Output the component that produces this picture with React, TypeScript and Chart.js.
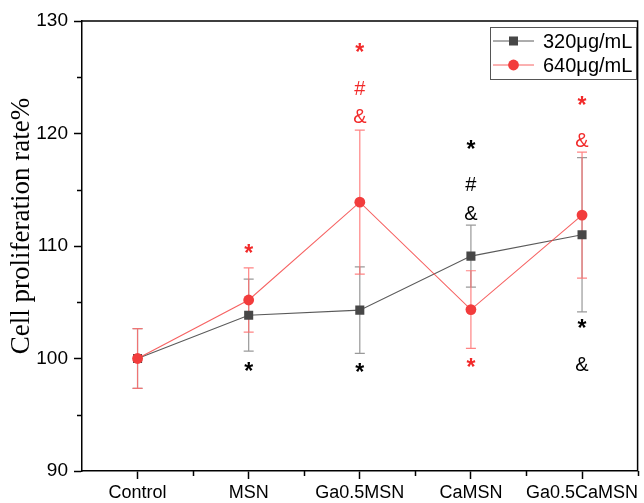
import { useEffect, useRef } from "react";
import { Chart, registerables } from "chart.js";

Chart.register(...registerables);

// Treatment groups on the x axis
const categories = ["Control", "MSN", "Ga0.5MSN", "CaMSN", "Ga0.5CaMSN"];

// 320 µg/mL: mean and error
const dose320 = [100, 103.85, 104.3, 109.1, 111.0];
const dose320Err = [2.65, 3.2, 3.85, 2.75, 6.85];

// 640 µg/mL: mean and error
const dose640 = [100, 105.2, 113.9, 104.35, 112.75];
const dose640Err = [2.65, 2.85, 6.4, 3.45, 5.6];

const seriesNames = ["320μg/mL", "640μg/mL"];

// y-axis range and tick steps
const yMin = 90;
const yMax = 130;
const yMajorStep = 10;
const yMinorTicks = [95, 105, 115, 125];

// Significance marks: category index, y value, symbol, group (0 = 320, 1 = 640)
const markCats = [1, 1, 2, 2, 2, 2, 3, 3, 3, 3, 4, 4, 4, 4];
const markValues = [109.7, 99.2, 127.5, 123.9, 121.4, 99.1, 118.9, 115.4, 112.8, 99.5, 122.8, 119.3, 103.0, 99.4];
const markSymbols = ["*", "*", "*", "#", "&", "*", "*", "#", "&", "*", "*", "&", "*", "&"];
const markGroups = [1, 0, 1, 1, 1, 0, 0, 0, 0, 1, 1, 1, 0, 0];

const GRAY_LINE = "#5a5a5a";
const GRAY_MARK = "#474747";
const GRAY_ERR = "rgba(110,110,110,0.7)";
const RED_LINE = "rgba(245,70,70,0.85)";
const RED_MARK = "#f23c3c";
const RED_ERR = "rgba(255,110,110,0.85)";
const SANS = "'Liberation Sans', Arial, sans-serif";
const SERIF = "'Liberation Serif', 'Times New Roman', serif";

const decorPlugin = {
  id: "decor",
  beforeDatasetsDraw(chart: any) {
    const { ctx } = chart;
    const xs = chart.scales.x;
    const ys = chart.scales.y;
    const groups = [
      { vals: dose320, errs: dose320Err, color: GRAY_ERR },
      { vals: dose640, errs: dose640Err, color: RED_ERR },
    ];
    ctx.save();
    ctx.lineWidth = 1.2;
    groups.forEach((g) => {
      ctx.strokeStyle = g.color;
      g.vals.forEach((v, i) => {
        const x = xs.getPixelForValue(i);
        const yHi = ys.getPixelForValue(v + g.errs[i]);
        const yLo = ys.getPixelForValue(v - g.errs[i]);
        ctx.beginPath();
        ctx.moveTo(x, yHi);
        ctx.lineTo(x, yLo);
        ctx.moveTo(x - 5, yHi);
        ctx.lineTo(x + 5, yHi);
        ctx.moveTo(x - 5, yLo);
        ctx.lineTo(x + 5, yLo);
        ctx.stroke();
      });
    });
    ctx.restore();
  },
  afterDraw(chart: any) {
    const { ctx, chartArea } = chart;
    const xs = chart.scales.x;
    const ys = chart.scales.y;
    const { left, right, top, bottom } = chartArea;
    ctx.save();

    // frame on top and right
    ctx.strokeStyle = "#000";
    ctx.lineWidth = 1.5;
    ctx.beginPath();
    ctx.moveTo(left, top);
    ctx.lineTo(right, top);
    ctx.lineTo(right, bottom);
    ctx.stroke();

    // minor ticks
    ctx.lineWidth = 1.5;
    ctx.beginPath();
    yMinorTicks.forEach((v) => {
      const y = Math.round(ys.getPixelForValue(v)) + 0.5;
      ctx.moveTo(left, y);
      ctx.lineTo(left - 5, y);
    });
    for (let i = 0; i < categories.length; i++) {
      const x = Math.round(xs.getPixelForValue(i + 0.5)) + 0.5;
      ctx.moveTo(x, bottom);
      ctx.lineTo(x, bottom + 5);
    }
    ctx.stroke();

    // y-axis title
    ctx.save();
    ctx.translate(22, 226);
    ctx.rotate(-Math.PI / 2);
    ctx.fillStyle = "#000";
    ctx.font = `27px ${SERIF}`;
    ctx.textAlign = "center";
    ctx.textBaseline = "middle";
    ctx.fillText("Cell proliferation rate%", 0, 0);
    ctx.restore();

    // significance marks
    ctx.textAlign = "center";
    ctx.textBaseline = "middle";
    markSymbols.forEach((s, i) => {
      ctx.fillStyle = markGroups[i] === 1 ? "#f22a2a" : "#000";
      const x = xs.getPixelForValue(markCats[i]);
      const y = ys.getPixelForValue(markValues[i]);
      if (s === "*") {
        ctx.font = `bold 23px ${SANS}`;
        ctx.fillText(s, x, y + 5);
      } else {
        ctx.font = `20px ${SANS}`;
        ctx.fillText(s, x, y);
      }
    });

    // legend
    const bx = 490.5, by = 27.5, bw = 146, bh = 52;
    ctx.strokeStyle = "#555";
    ctx.lineWidth = 1;
    ctx.strokeRect(bx, by, bw, bh);
    const rows = [
      { y: 41, line: GRAY_LINE, mark: GRAY_MARK, square: true },
      { y: 65, line: RED_LINE, mark: RED_MARK, square: false },
    ];
    rows.forEach((r, i) => {
      ctx.strokeStyle = r.line;
      ctx.lineWidth = 1;
      ctx.beginPath();
      ctx.moveTo(493, r.y);
      ctx.lineTo(534, r.y);
      ctx.stroke();
      ctx.fillStyle = r.mark;
      if (r.square) {
        ctx.fillRect(513.5 - 4.5, r.y - 4.5, 9, 9);
      } else {
        ctx.beginPath();
        ctx.arc(513.5, r.y, 5.4, 0, Math.PI * 2);
        ctx.fill();
      }
      ctx.fillStyle = "#000";
      ctx.font = `20px ${SANS}`;
      ctx.textAlign = "left";
      ctx.textBaseline = "middle";
      ctx.fillText(seriesNames[i], 543, r.y + 1);
    });

    ctx.restore();
  },
};

export default function App() {
  const canvasRef = useRef<HTMLCanvasElement | null>(null);

  useEffect(() => {
    document.body.style.margin = "0";
    const canvas = canvasRef.current;
    if (!canvas) return;
    const chart = new Chart(canvas, {
      type: "line",
      data: {
        labels: categories,
        datasets: [
          {
            label: seriesNames[0],
            data: dose320,
            borderColor: GRAY_LINE,
            backgroundColor: GRAY_MARK,
            borderWidth: 1.1,
            pointStyle: "rect",
            pointRadius: 6.4,
            pointBorderWidth: 0,
            pointBackgroundColor: GRAY_MARK,
            order: 1,
          },
          {
            label: seriesNames[1],
            data: dose640,
            borderColor: RED_LINE,
            backgroundColor: RED_MARK,
            borderWidth: 1.1,
            pointStyle: "circle",
            pointRadius: 5.4,
            pointBorderWidth: 0,
            pointBackgroundColor: RED_MARK,
            order: 0,
          },
        ],
      },
      options: {
        responsive: false,
        animation: false,
        layout: { padding: { top: 21, right: 4, left: 0, bottom: 0 } },
        plugins: {
          legend: { display: false },
          tooltip: { enabled: false },
          title: { display: false },
        },
        scales: {
          x: {
            type: "category",
            offset: true,
            grid: {
              offset: false,
              drawOnChartArea: false,
              drawTicks: true,
              tickLength: 8,
              tickColor: "#000",
              tickWidth: 1.5,
            },
            border: { display: true, color: "#000", width: 1.5 },
            ticks: {
              color: "#000",
              font: { family: SANS, size: 18 },
              padding: 3,
              maxRotation: 0,
              autoSkip: false,
            },
            afterFit(scale: any) {
              scale.height = 32;
            },
          },
          y: {
            min: yMin,
            max: yMax,
            grid: {
              drawOnChartArea: false,
              drawTicks: true,
              tickLength: 8,
              tickColor: "#000",
              tickWidth: 1.5,
            },
            border: { display: true, color: "#000", width: 1.5 },
            ticks: {
              stepSize: yMajorStep,
              color: "#000",
              font: { family: SANS, size: 19 },
              padding: 6,
            },
            afterFit(scale: any) {
              scale.width = 82;
            },
          },
        },
      },
      plugins: [decorPlugin],
    });
    return () => chart.destroy();
  }, []);

  return <canvas ref={canvasRef} width={644} height={503} style={{ display: "block" }} />;
}
